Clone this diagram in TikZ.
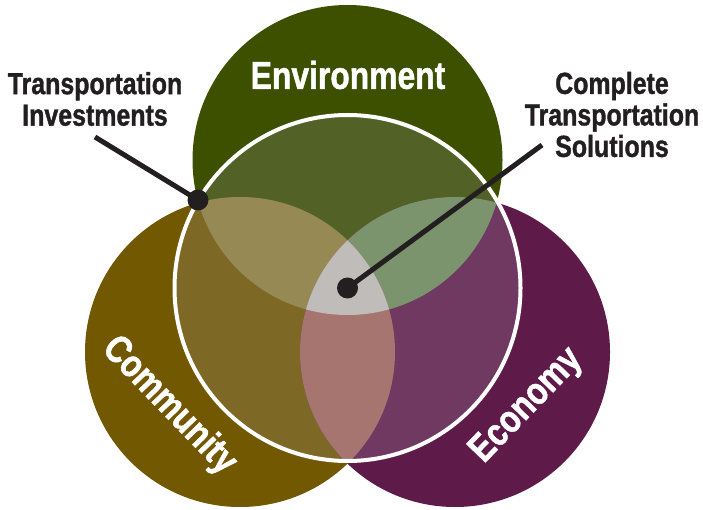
\documentclass[tikz,border=0pt]{standalone}
\usepackage{fontspec}
\setmainfont{Liberation Sans}[FakeStretch=0.82,BoldFeatures={FakeBold=1.2}]
\definecolor{envout}{RGB}{60,80,0}
\definecolor{envin}{RGB}{82,98,38}
\definecolor{comout}{RGB}{114,88,0}
\definecolor{comin}{RGB}{126,104,38}
\definecolor{ecoout}{RGB}{94,27,74}
\definecolor{ecoin}{RGB}{111,57,97}
\definecolor{envcom}{RGB}{151,137,84}
\definecolor{enveco}{RGB}{124,148,110}
\definecolor{comeco}{RGB}{166,117,112}
\definecolor{allthree}{RGB}{192,188,185}
\definecolor{ink}{RGB}{35,31,32}
\begin{document}
\begin{tikzpicture}[x=1pt,y=-1pt,
  ptr/.style={draw=ink,line width=5pt},
  pdot/.style={circle,fill=ink,inner sep=0pt,minimum size=21pt},
  callout/.style={text=ink,align=center,inner sep=0pt,font=\bfseries\fontsize{30.4}{31.5}\selectfont},
  circname/.style={text=white,inner sep=0pt,font=\bfseries\fontsize{38.8}{38.8}\selectfont}]
\useasboundingbox (0,0) rectangle (703,510);
\coordinate (E) at (347.5,160);
\coordinate (C) at (240,352);
\coordinate (K) at (455,352);
\coordinate (W) at (347.5,288);
% outer discs
\fill[envout] (E) circle[radius=155pt];
\fill[comout] (C) circle[radius=155pt];
\fill[ecoout] (K) circle[radius=155pt];
% inside the white ring
\begin{scope}
  \clip (W) circle[radius=173pt];
  \fill[envin] (E) circle[radius=155pt];
  \fill[comin] (C) circle[radius=155pt];
  \fill[ecoin] (K) circle[radius=155pt];
  \begin{scope}
    \clip (E) circle[radius=155pt];
    \fill[envcom] (C) circle[radius=155pt];
    \fill[enveco] (K) circle[radius=155pt];
  \end{scope}
  \begin{scope}
    \clip (C) circle[radius=155pt];
    \fill[comeco] (K) circle[radius=155pt];
  \end{scope}
  \begin{scope}
    \clip (E) circle[radius=155pt];
    \clip (C) circle[radius=155pt];
    \fill[allthree] (K) circle[radius=155pt];
  \end{scope}
\end{scope}
\draw[white,line width=4pt] (W) circle[radius=173pt];
% labels
\node[circname] (env) at (348,75) {Environment};
\node[circname,rotate=-46] (com) at (169,406) {Community};
\node[circname,rotate=46] (eco) at (527,406) {Economy};
\node[callout] (ti) at (95,99) {Transportation\\Investments};
\node[callout] (cts) at (612,114.5) {Complete\\Transportation\\Solutions};
% pointers
\coordinate (p1) at (95,137);
\coordinate (p2) at (542,145);
\node[pdot] (d1) at (198,200) {};
\node[pdot] (d2) at (347.5,288) {};
\draw[ptr] (p1) -- (d1.center);
\draw[ptr] (p2) -- (d2.center);
\end{tikzpicture}
\end{document}
